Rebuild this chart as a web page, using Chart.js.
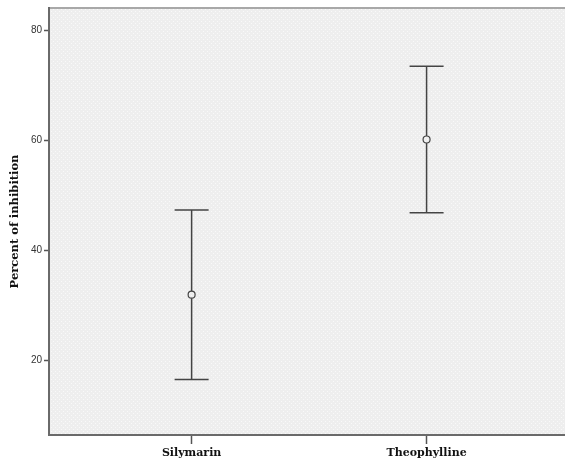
<!DOCTYPE html>
<html>
<head>
<meta charset="utf-8">
<script src="https://cdn.jsdelivr.net/npm/chart.js@4"></script>
<style>
  html, body { margin: 0; padding: 0; background: #fff; }
  #chart { display: block; }
</style>
</head>
<body>
<canvas id="chart" width="565" height="464"></canvas>
<script>
// values
const groups = ['Silymarin', 'Theophylline'];
const means = [32.0, 60.2];
const upper = [47.4, 73.5];
const lower = [16.6, 46.9];
const yTicks = [20, 40, 60, 80];

// dotted grey fill like the SPSS plot background
function makePattern(ctx) {
    const c = document.createElement('canvas');
    c.width = 4;
    c.height = 4;
    const p = c.getContext('2d');
    p.fillStyle = '#eeeeee';
    p.fillRect(0, 0, 4, 4);
    p.fillStyle = '#f9f9f9';
    p.fillRect(1, 1, 1, 1);
    p.fillRect(3, 3, 1, 1);
    return ctx.createPattern(c, 'repeat');
}

// chart.js leaves a few px on the right, so the plot frame is run out to the canvas edge here
const backgroundPlugin = {
    id: 'plotBackground',
    beforeDraw(chart) {
        const { ctx, chartArea: a } = chart;
        ctx.save();
        ctx.fillStyle = makePattern(ctx);
        ctx.fillRect(a.left, a.top, chart.width - a.left, a.bottom - a.top);
        ctx.strokeStyle = '#a8a8a8';
        ctx.lineWidth = 2;
        ctx.beginPath();
        ctx.moveTo(a.left, a.top);
        ctx.lineTo(chart.width, a.top);
        ctx.stroke();
        ctx.restore();
    },
    afterDraw(chart) {
        const { ctx, chartArea: a } = chart;
        ctx.save();
        ctx.strokeStyle = '#6a6a6a';
        ctx.lineWidth = 2;
        ctx.beginPath();
        ctx.moveTo(a.right - 1, a.bottom);
        ctx.lineTo(chart.width, a.bottom);
        ctx.stroke();
        ctx.restore();
    }
};

const errorBarPlugin = {
    id: 'errorBars',
    afterDatasetsDraw(chart) {
        const { ctx, scales } = chart;
        const x = scales.x, y = scales.y;
        ctx.save();
        ctx.strokeStyle = '#444';
        ctx.lineWidth = 1.5;
        groups.forEach((g, i) => {
            const px = x.getPixelForValue(i + 1);
            const top = y.getPixelForValue(upper[i]);
            const bot = y.getPixelForValue(lower[i]);
            const mid = y.getPixelForValue(means[i]);
            ctx.beginPath();
            ctx.moveTo(px, top);
            ctx.lineTo(px, mid - 3.5);
            ctx.moveTo(px, mid + 3.5);
            ctx.lineTo(px, bot);
            ctx.moveTo(px - 17, top);
            ctx.lineTo(px + 17, top);
            ctx.moveTo(px - 17, bot);
            ctx.lineTo(px + 17, bot);
            ctx.stroke();
        });
        ctx.restore();
    }
};

const ctx = document.getElementById('chart').getContext('2d');

new Chart(ctx, {
    type: 'scatter',
    data: {
        datasets: [{
            data: means.map((m, i) => ({ x: i + 1, y: m })),
            pointRadius: 3.5,
            pointBorderWidth: 1.2,
            pointBorderColor: '#444',
            pointBackgroundColor: 'rgba(0,0,0,0)'
        }]
    },
    options: {
        responsive: false,
        animation: false,
        events: [],
        layout: { padding: { top: 8, right: 0, left: 0, bottom: 0 } },
        plugins: {
            legend: { display: false },
            tooltip: { enabled: false }
        },
        scales: {
            x: {
                type: 'linear',
                min: 0.393,
                max: 2.567,
                afterBuildTicks: scale => {
                    scale.ticks = groups.map((g, i) => ({ value: i + 1 }));
                },
                afterFit: scale => {
                    scale.height = 29;
                    scale.paddingLeft = 0;
                    scale.paddingRight = 0;
                },
                grid: {
                    drawOnChartArea: false,
                    drawTicks: true,
                    tickLength: 9,
                    tickWidth: 1.5,
                    tickColor: '#555'
                },
                border: { display: true, color: '#6a6a6a', width: 2 },
                ticks: {
                    padding: 3,
                    color: '#111',
                    font: { family: 'DejaVu Serif', size: 11, weight: 'bold' },
                    callback: v => groups[v - 1]
                }
            },
            y: {
                min: 6.5,
                max: 84.1,
                afterBuildTicks: scale => {
                    scale.ticks = yTicks.map(v => ({ value: v }));
                },
                afterFit: scale => {
                    scale.width = 49;
                    scale.paddingTop = 0;
                    scale.paddingBottom = 0;
                },
                grid: {
                    drawOnChartArea: false,
                    drawTicks: true,
                    tickLength: 5,
                    tickWidth: 1.5,
                    tickColor: '#555'
                },
                border: { display: true, color: '#6a6a6a', width: 2 },
                ticks: {
                    padding: 2,
                    color: '#333',
                    font: { family: 'Liberation Sans', size: 10 }
                },
                title: {
                    display: true,
                    text: 'Percent of inhibition',
                    color: '#111',
                    padding: { top: 8, bottom: 0 },
                    font: { family: 'DejaVu Serif', size: 11.5, weight: 'bold' }
                }
            }
        }
    },
    plugins: [backgroundPlugin, errorBarPlugin]
});
</script>
</body>
</html>
